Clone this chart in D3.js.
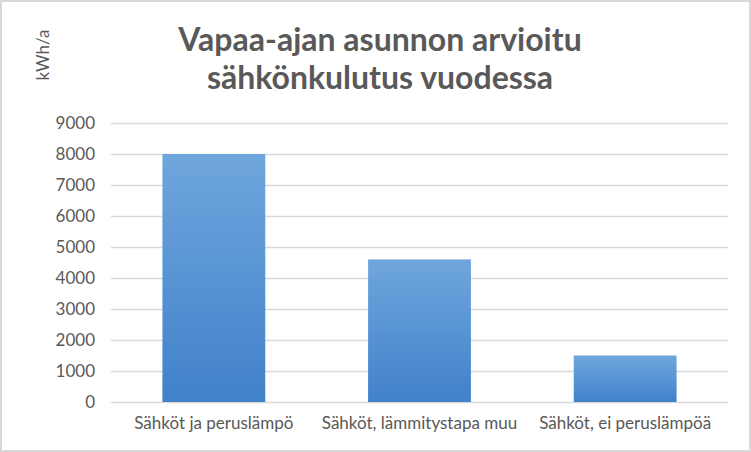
<!DOCTYPE html>
<html>
<head>
<meta charset="utf-8">
<script src="https://cdn.jsdelivr.net/npm/d3@7"></script>
<style>
  html, body { margin: 0; padding: 0; background: #fff; }
  #chart { width: 751px; height: 452px; }
</style>
</head>
<body>
<div id="chart"></div>
<script>
// Chart data
const categories = ["Sähköt ja peruslämpö", "Sähköt, lämmitystapa muu", "Sähköt, ei peruslämpöä"];
const values = [8000, 4600, 1500];
const yTicks = [0, 1000, 2000, 3000, 4000, 5000, 6000, 7000, 8000, 9000];
const titleLines = ["Vapaa-ajan asunnon arvioitu", "sähkönkulutus vuodessa"];
const yTitle = "kWh/a";

// Dimensions and margins
const width = 751;
const height = 452;
const marginTop = 123;
const marginRight = 23;
const marginBottom = 50;
const marginLeft = 111;

const font = "Lato, 'Open Sans', sans-serif";
const textColor = "#595959";

const svg = d3.create("svg")
    .attr("width", width)
    .attr("height", height);

document.getElementById("chart").append(svg.node());

// Bar gradient
const grad = svg.append("defs").append("linearGradient")
    .attr("id", "barGrad")
    .attr("x1", 0).attr("y1", 0).attr("x2", 0).attr("y2", 1);
grad.append("stop").attr("offset", "0%").attr("stop-color", "#6fa6dc");
grad.append("stop").attr("offset", "100%").attr("stop-color", "#4181cb");

// Outer border
svg.append("rect")
    .attr("x", 1).attr("y", 1)
    .attr("width", width - 2).attr("height", height - 2)
    .attr("fill", "#fff")
    .attr("stroke", "#d9d9d9")
    .attr("stroke-width", 2);

// Scales
const x = d3.scaleBand()
    .domain(categories)
    .range([marginLeft, width - marginRight])
    .paddingInner(0.5)
    .paddingOuter(0.25);

const y = d3.scaleLinear()
    .domain([0, 9000])
    .range([height - marginBottom, marginTop]);

// Gridlines and y tick labels
const gy = svg.append("g")
    .attr("transform", `translate(${marginLeft},0)`)
    .call(d3.axisLeft(y).tickValues(yTicks).tickFormat(d3.format("d"))
        .tickSize(-(width - marginLeft - marginRight)).tickPadding(16));
gy.select(".domain").remove();
gy.selectAll(".tick line").attr("stroke", "#d9d9d9").attr("stroke-width", 1.5);
gy.selectAll(".tick text")
    .attr("fill", textColor)
    .style("font-family", font)
    .style("font-size", "17px");

// Bars
svg.selectAll("rect.bar")
    .data(values)
    .enter()
    .append("rect")
    .attr("class", "bar")
    .attr("x", (d, i) => x(categories[i]))
    .attr("y", d => y(d))
    .attr("width", x.bandwidth())
    .attr("height", d => y(0) - y(d))
    .attr("fill", "url(#barGrad)");

// X axis labels
const gx = svg.append("g")
    .attr("transform", `translate(0,${height - marginBottom})`)
    .call(d3.axisBottom(x).tickSize(0).tickPadding(15));
gx.select(".domain").remove();
gx.selectAll(".tick text")
    .attr("fill", textColor)
    .style("font-family", font)
    .style("font-size", "17px");

// Title
svg.append("text")
    .attr("x", 380)
    .attr("y", 51)
    .attr("text-anchor", "middle")
    .attr("fill", textColor)
    .style("font-family", font)
    .style("font-weight", "bold")
    .style("font-size", "32px")
    .selectAll("tspan")
    .data(titleLines)
    .enter()
    .append("tspan")
    .attr("x", 380)
    .attr("dy", (d, i) => i === 0 ? 0 : 38)
    .text(d => d);

// Y axis title
svg.append("text")
    .attr("transform", "rotate(-90)")
    .attr("x", -55)
    .attr("y", 49)
    .attr("text-anchor", "middle")
    .attr("fill", textColor)
    .style("font-family", font)
    .style("font-size", "17px")
    .text(yTitle);
</script>
</body>
</html>
